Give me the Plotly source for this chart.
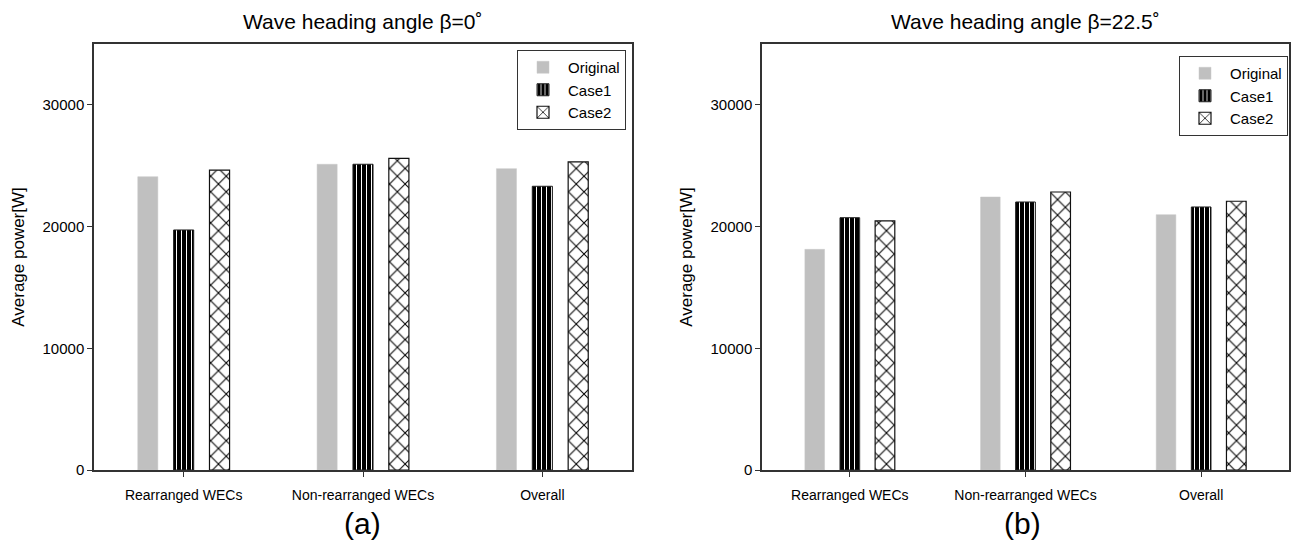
import plotly.graph_objects as go

categories = ["Rearranged WECs", "Non-rearranged WECs", "Overall"]
series_names = ["Original", "Case1", "Case2"]

# Panel (a): beta = 0 deg
a_original = [24100, 25120, 24760]
a_case1 = [19720, 25120, 23310]
a_case2 = [24630, 25610, 25310]

# Panel (b): beta = 22.5 deg
b_original = [18130, 22430, 20980]
b_case1 = [20730, 22020, 21610]
b_case2 = [20460, 22840, 22080]

y_ticks = [0, 10000, 20000, 30000]
y_ticktext = ["0", "10000", "20000", "30000"]

FONT = "Liberation Sans, Arial, sans-serif"
W, H = 1298, 549

fig = go.Figure()

bw = 0.112
offsets = [-0.2 - bw / 2, -bw / 2, 0.2 - bw / 2]

styles = [
    dict(color="#c0c0c0", line=dict(color="#c8c8c8", width=0.5)),
    dict(color="black", line=dict(color="#222222", width=1),
         pattern=dict(shape="|", bgcolor="black", fgcolor="white", size=5, solidity=0.2, fillmode="replace")),
    dict(color="white", line=dict(color="#111111", width=1.2),
         pattern=dict(shape="x", bgcolor="white", fgcolor="black", size=11, solidity=0.18, fillmode="replace")),
]

panels = [
    ([a_original, a_case1, a_case2], "x", "y", "legend"),
    ([b_original, b_case1, b_case2], "x2", "y2", "legend2"),
]

for data, xa, ya, lg in panels:
    for name, vals, off, st in zip(series_names, data, offsets, styles):
        fig.add_trace(go.Bar(
            x=categories, y=vals, name=name, xaxis=xa, yaxis=ya,
            width=bw, offset=off, marker=st, legend=lg,
        ))

def px_x(p):
    return p / W

def px_y(p):
    return 1 - p / H

y_dom = [px_y(470), px_y(44)]
axis_line = dict(showline=True, linecolor="#333333", linewidth=1.5, mirror=True)

def xax(dom, anchor):
    return dict(domain=dom, anchor=anchor, range=[-0.5, 2.5], automargin=False,
                ticks="outside", ticklen=5, tickcolor="#333333", showgrid=False,
                tickfont=dict(size=14), ticklabelstandoff=6, **axis_line)

def yax(anchor):
    return dict(domain=y_dom, anchor=anchor, range=[0, 35000], automargin=False,
                tickvals=y_ticks, ticktext=y_ticktext,
                ticks="outside", ticklen=5, tickcolor="#333333", showgrid=False,
                zeroline=False, tickfont=dict(size=15),
                title=dict(text="Average power[W]", font=dict(size=17), standoff=14),
                **axis_line)

fig.update_layout(
    width=W, height=H,
    margin=dict(l=0, r=0, t=0, b=0),
    paper_bgcolor="white", plot_bgcolor="white",
    barmode="overlay",
    font=dict(family=FONT, size=14, color="black"),
    xaxis=xax([px_x(94), px_x(632)], "y"),
    yaxis=yax("x"),
    xaxis2=xax([px_x(762), px_x(1289)], "y2"),
    yaxis2=yax("x2"),
    legend=dict(x=px_x(626), xanchor="right", y=px_y(50), yanchor="top",
                bordercolor="#333333", borderwidth=1, bgcolor="white",
                font=dict(size=15), tracegroupgap=0, itemwidth=40),
    legend2=dict(x=px_x(1288), xanchor="right", y=px_y(56), yanchor="top",
                 bordercolor="#333333", borderwidth=1, bgcolor="white",
                 font=dict(size=15), tracegroupgap=0, itemwidth=40),
    annotations=[
        dict(text="Wave heading angle β=0˚", x=px_x(363), y=px_y(21), xref="paper", yref="paper",
             xanchor="center", yanchor="middle", showarrow=False, font=dict(size=21)),
        dict(text="Wave heading angle β=22.5˚", x=px_x(1025), y=px_y(21), xref="paper", yref="paper",
             xanchor="center", yanchor="middle", showarrow=False, font=dict(size=21)),
        dict(text="(a)", x=px_x(363), y=px_y(523), xref="paper", yref="paper",
             xanchor="center", yanchor="middle", showarrow=False, font=dict(size=30)),
        dict(text="(b)", x=px_x(1022), y=px_y(523), xref="paper", yref="paper",
             xanchor="center", yanchor="middle", showarrow=False, font=dict(size=30)),
    ],
)

fig.write_html("out.html")
